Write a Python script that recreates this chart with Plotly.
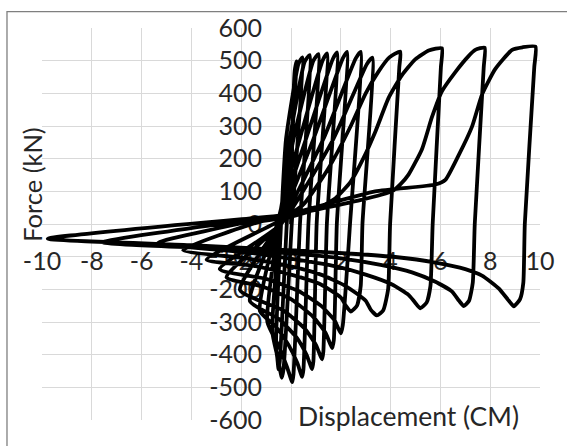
import plotly.graph_objects as go

# Hysteresis test record, one cycle per pair of lists:
# reloading branch -> peak -> unloading drop -> minimum -> return branch -> left end
cyc01_disp = [0.0, 0.05, 0.15, 0.22, -0.17, -0.45, -0.5, -0.55, -0.6]
cyc01_force = [0, 260, 470, 498, 0, -420, -445, -410, -380]

cyc02_disp = [-0.4, -0.2, 0.3, 0.45, 0.03, -0.3, -0.37, -0.5, -0.75]
cyc02_force = [0, 260, 490, 510, 0, -445, -471, -420, -330]

cyc03_disp = [-0.45, -0.05, 0.55, 0.75, 0.36, 0.1, 0.05, -0.15, -0.45, -0.95]
cyc03_force = [0, 260, 497, 517, 0, -460, -484, -440, -380, -300]

cyc04_disp = [-0.5, 0.1, 0.9, 1.1, 0.7, 0.5, 0.45, 0.25, -0.1, -0.6, -1.25]
cyc04_force = [0, 260, 500, 520, 0, -445, -468, -425, -370, -315, -266]

cyc05_disp = [-0.55, 0.35, 1.28, 1.45, 1.03, 0.9, 0.85, 0.62, 0.25, -0.5, -1.65]
cyc05_force = [0, 260, 502, 522, 0, -420, -444, -400, -350, -290, -236]

cyc06_disp = [-0.55, 0.6, 1.68, 1.85, 1.44, 1.3, 1.25, 1.0, 0.55, -0.3, -2.05]
cyc06_force = [0, 260, 505, 525, 0, -390, -414, -370, -320, -265, -202]

cyc07_disp = [-0.5, 0.9, 2.08, 2.25, 1.84, 1.72, 1.65, 1.4, 0.9, 0.0, -1.2, -2.59]
cyc07_force = [0, 260, 507, 527, 0, -355, -380, -335, -285, -230, -190, -163]

cyc08_disp = [-0.45, 1.3, 2.6, 2.8, 2.37, 2.08, 2.0, 1.75, 1.2, 0.3, -1.0, -2.86]
cyc08_force = [0, 260, 507, 527, 0, -310, -335, -295, -250, -205, -168, -138]

cyc09_disp = [-0.4, 1.7, 3.05, 3.27, 2.87, 2.8, 2.65, 2.4, 2.2, 2.0, 1.2, 0.0, -1.5, -3.39]
cyc09_force = [0, 260, 490, 509, 0, -190, -250, -268, -250, -225, -185, -155, -128, -109]

cyc10_disp = [-0.5, 0.5, 1.5, 2.4, 3.0, 3.5, 3.95, 4.39, 4.35, 3.98, 3.9, 3.7, 3.45,
              3.2, 3.0, 2.2, 1.2, 0.0, -1.8, -4.33]
cyc10_force = [8, 60, 170, 300, 400, 465, 510, 528, 480, 0, -200, -265, -280,
               -262, -235, -190, -155, -130, -105, -80]

cyc11_disp = [-1.2, 0.0, 1.0, 1.8, 2.4, 2.9, 3.4, 3.92, 4.45, 4.99, 5.53, 6.06, 6.02,
              5.69, 5.6, 5.45, 5.19, 4.98, 4.72, 4.06, 3.0, 1.8, 0.3, -2.0, -5.34]
cyc11_force = [8, 22, 45, 80, 130, 200, 285, 386, 455, 504, 531, 538, 480,
               0, -190, -240, -258, -240, -217, -185, -155, -130, -110, -85, -58]

cyc12_disp = [-1.2, 0.0, 2.78, 4.05, 4.4, 4.72, 5.26, 5.66, 6.06, 6.6, 7.13, 7.4, 7.78, 7.74,
              7.38, 7.3, 7.15, 6.94, 6.75, 6.47, 5.8, 4.86, 3.6, 2.0, 0.0, -3.0, -7.55]
cyc12_force = [14, 28, 73, 100, 122, 151, 229, 327, 406, 465, 514, 533, 540, 480,
               0, -180, -235, -251, -235, -207, -177, -148, -125, -105, -90, -75, -56]

cyc13_disp = [-1.2, 0.0, 3.38, 5.8, 6.2, 6.73, 7.27, 7.67, 8.2, 8.88, 9.3, 9.82, 9.77,
              9.39, 9.33, 9.2, 8.95, 8.75, 8.34, 7.67, 7.0, 5.8, 4.19, 2.44, 0.0, -4.0, -9.77]
cyc13_force = [18, 32, 100, 121, 135, 210, 298, 396, 474, 533, 541, 543, 480,
               0, -180, -230, -252, -235, -197, -158, -138, -118, -101, -91, -80, -65, -45]

tail_disp = [-1.2, 0.3]
tail_force = [20, 30]

x_ticks = [-10, -8, -6, -4, -2, 0, 2, 4, 6, 8, 10]
x_tick_text = ["-10", "-8", "-6", "-4", "-2", "0", "2", "4", "6", "8", "10"]
y_ticks = [-600, -500, -400, -300, -200, -100, 0, 100, 200, 300, 400, 500, 600]
y_tick_text = ["-600", "-500", "-400", "-300", "-200", "-100", "0",
               "100", "200", "300", "400", "500", "600"]

cycles = [
    (cyc01_disp, cyc01_force), (cyc02_disp, cyc02_force), (cyc03_disp, cyc03_force),
    (cyc04_disp, cyc04_force), (cyc05_disp, cyc05_force), (cyc06_disp, cyc06_force),
    (cyc07_disp, cyc07_force), (cyc08_disp, cyc08_force), (cyc09_disp, cyc09_force),
    (cyc10_disp, cyc10_force), (cyc11_disp, cyc11_force), (cyc12_disp, cyc12_force),
    (cyc13_disp, cyc13_force), (tail_disp, tail_force),
]

disp, force = [], []
for d, f in cycles:
    disp.extend(d)
    force.extend(f)

FONT = "Lato"
TEXT = "#262626"
GRID = "#d9d9d9"

fig = go.Figure()
fig.add_trace(go.Scatter(
    x=disp, y=force, mode="lines",
    line=dict(color="black", width=3.8, shape="spline", smoothing=0.5),
    hoverinfo="skip", showlegend=False,
))

axis_common = dict(
    showgrid=True, gridcolor=GRID, gridwidth=1.3,
    zeroline=False, showline=False, ticks="",
    tickfont=dict(family=FONT, size=25, color=TEXT),
    layer="below traces", fixedrange=True,
)

fig.update_layout(
    width=567, height=446,
    margin=dict(l=42, r=27, t=24, b=14, pad=0),
    paper_bgcolor="white", plot_bgcolor="white",
    xaxis=dict(range=[-10, 10], tickmode="array", tickvals=x_ticks, ticktext=x_tick_text,
               anchor="free", position=0.5, ticklabelstandoff=20, **axis_common),
    yaxis=dict(range=[-600, 600], tickmode="array", tickvals=y_ticks, ticktext=y_tick_text,
               anchor="free", position=0.5, ticklabelstandoff=29, **axis_common),
    annotations=[
        dict(text="Displacement (CM)", xref="paper", yref="paper", x=0.735, y=0.01,
             xanchor="center", yanchor="middle", showarrow=False,
             font=dict(family=FONT, size=26.5, color=TEXT)),
        dict(text="Force (kN)", xref="paper", yref="paper", x=-0.02, y=0.6,
             xanchor="center", yanchor="middle", textangle=-90, showarrow=False,
             font=dict(family=FONT, size=25.5, color=TEXT)),
    ],
    shapes=[
        dict(type="rect", xref="paper", yref="paper",
             x0=-0.0703, y0=-0.2, x1=1.2, y1=1.0417,
             line=dict(color="#7f7f7f", width=1.3), layer="below"),
    ],
)

fig.write_html("out.html")
